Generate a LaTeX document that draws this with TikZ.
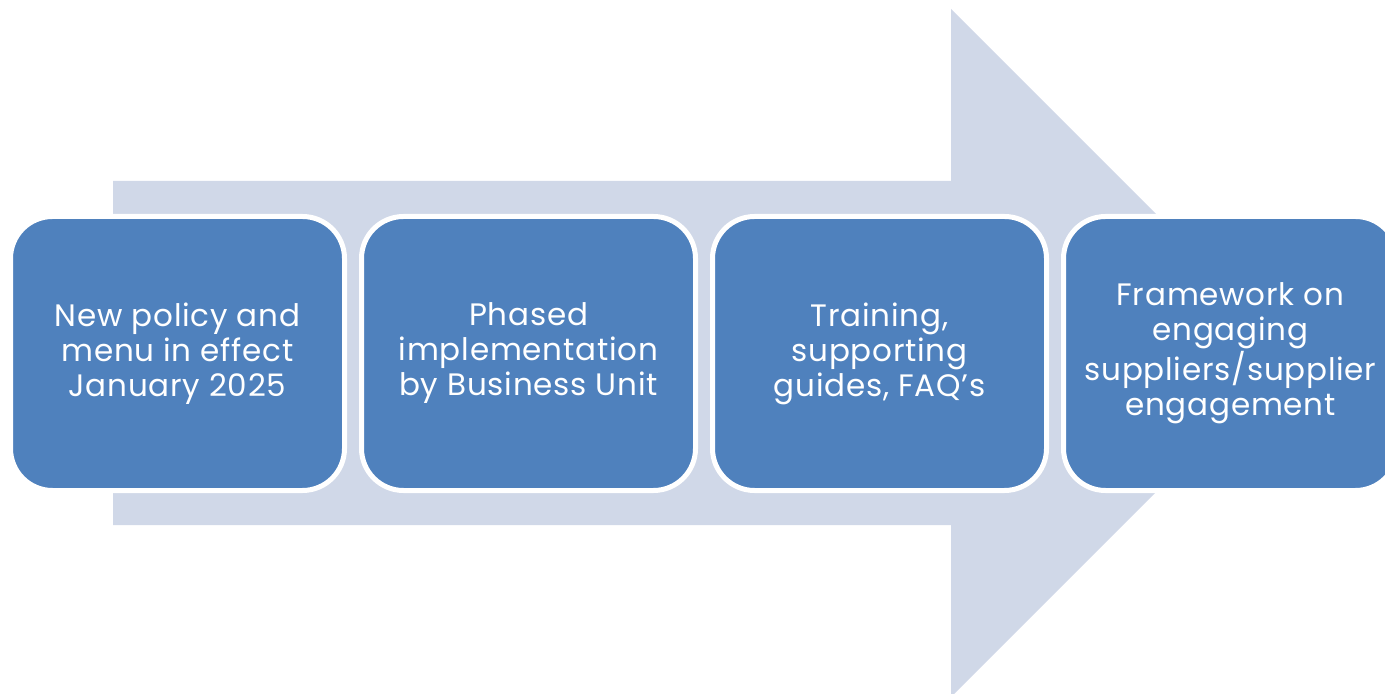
\documentclass[tikz,border=0pt]{standalone}
\usepackage{fontspec}
\setmainfont{Poppins}[LetterSpace=2.5]
\usetikzlibrary{positioning}
\definecolor{phaseblue}{RGB}{79,129,189}
\definecolor{arrowgrey}{RGB}{208,216,232}

\begin{document}
\begin{tikzpicture}[x=0.5pt,y=-0.5pt,
        node distance=8.5pt,
        phase/.style={draw=white,fill=phaseblue,line width=2.5pt,rounded corners=21pt,outer sep=0pt,
            minimum width=167pt,minimum height=137pt,align=center,text=white,
            font=\fontsize{15.5}{17.5}\selectfont}]

    \useasboundingbox (0,0) rectangle (1385,694);
    \clip (0,0) rectangle (1385,694);

    % big arrow behind the boxes
    \fill[arrowgrey] (113,181) -- (951,181) -- (951,9) -- (1295,353)
        -- (951,697) -- (951,525) -- (113,525) -- cycle;

    \node[phase] (p1) at (177.5,353.5) {New policy and\\menu in effect\\January 2025};
    \node[phase,right=of p1] (p2) {Phased\\implementation\\by Business Unit};
    \node[phase,right=of p2] (p3) {Training,\\supporting\\guides, FAQ’s};
    \node[phase,right=of p3] (p4) {Framework on\\engaging\\suppliers/supplier\\engagement};

\end{tikzpicture}
\end{document}
